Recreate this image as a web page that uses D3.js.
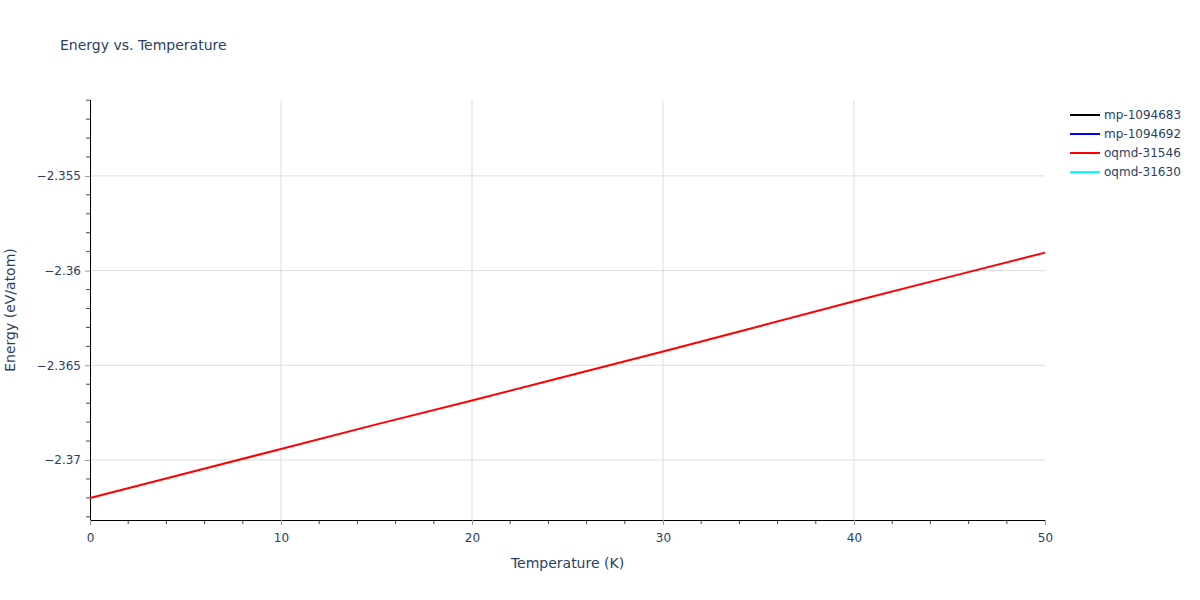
<!DOCTYPE html>
<html><head><meta charset="utf-8">
<script src="https://cdn.jsdelivr.net/npm/d3@7"></script>
<style>body{margin:0;background:#fff;} text{font-family:"DejaVu Sans",Verdana,sans-serif;}</style>
</head><body>
<svg id="c" width="1200" height="600"></svg>
<script>
const seriesNames = ["mp-1094683","mp-1094692","oqmd-31546","oqmd-31630"];
const seriesColors = ["#000000","#0000ff","#ff0000","#00ffff"];
const temperature = [0,5,10,15,20,25,30,35,40,45,50];
const energyMp1094683 = [];
const energyMp1094692 = [];
const energyOqmd31546 = [-2.37201,-2.37071,-2.36942,-2.36812,-2.36686,-2.36557,-2.36427,-2.36295,-2.36162,-2.36033,-2.35905];
const energyOqmd31630 = [];
const xTicks = [0,10,20,30,40,50];
const yTicks = [-2.37,-2.365,-2.36,-2.355];

const series = [energyMp1094683, energyMp1094692, energyOqmd31546, energyOqmd31630];
const svg = d3.select("#c");
const L=90,R=1045,T=100,B=520;
const x = d3.scaleLinear().domain([0,50]).range([L,R]);
const y = d3.scaleLinear().domain([-2.37317,-2.35099]).range([B,T]);
const txt="#2a3f5f";

// grid
svg.append("g").selectAll("line").data(xTicks.filter(d=>d>0&&d<50)).join("line")
  .attr("x1",d=>x(d)).attr("x2",d=>x(d)).attr("y1",T).attr("y2",B).attr("stroke","#dddddd").attr("stroke-width",1);
svg.append("g").selectAll("line").data(yTicks).join("line")
  .attr("x1",L).attr("x2",R).attr("y1",d=>y(d)).attr("y2",d=>y(d)).attr("stroke","#dddddd").attr("stroke-width",1);

// minor ticks
const xMinor = d3.range(0,51,2).filter(d=>d%10!==0);
svg.append("g").selectAll("line").data(xMinor).join("line")
  .attr("x1",d=>x(d)).attr("x2",d=>x(d)).attr("y1",B).attr("y2",B+4).attr("stroke","#444");
const yMinor = d3.range(-2.373,-2.3505,0.001).filter(v=>!yTicks.some(t=>Math.abs(t-v)<1e-6));
svg.append("g").selectAll("line").data(yMinor).join("line")
  .attr("x1",L-4).attr("x2",L).attr("y1",d=>y(d)).attr("y2",d=>y(d)).attr("stroke","#444");

// axes
const fmt = d3.format("~f");
const xAxis = svg.append("g").attr("transform",`translate(0,${B})`)
  .call(d3.axisBottom(x).tickValues(xTicks).tickSize(5).tickSizeOuter(0).tickPadding(8).tickFormat(d3.format("d")));
const yAxis = svg.append("g").attr("transform",`translate(${L},0)`)
  .call(d3.axisLeft(y).tickValues(yTicks).tickSize(5).tickSizeOuter(0).tickPadding(4).tickFormat(fmt));
[xAxis,yAxis].forEach(a=>{
  a.select(".domain").attr("stroke","#000").attr("stroke-width",1);
  a.selectAll(".tick line").attr("stroke","#999");
  a.selectAll(".tick text").attr("fill",txt).attr("font-size",12);
});
yAxis.select(".domain").attr("d",`M0.5,${T}V${B}`);
xAxis.select(".domain").attr("d",`M${L},0.5H${R}`);

// lines
const line = d3.line().x((d,i)=>x(temperature[i])).y(d=>y(d));
series.forEach((s,i)=>{
  if(!s.length) return;
  svg.append("path").datum(s).attr("d",line).attr("fill","none")
    .attr("stroke",seriesColors[i]).attr("stroke-width",2);
});

// titles
svg.append("text").attr("x",60).attr("y",50).attr("font-size",14).attr("fill",txt).text("Energy vs. Temperature");
svg.append("text").attr("x",(L+R)/2).attr("y",568).attr("text-anchor","middle").attr("font-size",14).attr("fill",txt).text("Temperature (K)");
svg.append("text").attr("transform",`translate(15,${(T+B)/2}) rotate(-90)`).attr("text-anchor","middle").attr("font-size",14).attr("fill",txt).text("Energy (eV/atom)");

// legend
const lg = svg.append("g");
seriesNames.forEach((n,i)=>{
  const yy = 115+i*19;
  lg.append("line").attr("x1",1070).attr("x2",1100).attr("y1",yy).attr("y2",yy).attr("stroke",seriesColors[i]).attr("stroke-width",2);
  lg.append("text").attr("x",1104).attr("y",yy+4).attr("font-size",12).attr("fill",txt).text(n);
});
</script>
</body></html>
